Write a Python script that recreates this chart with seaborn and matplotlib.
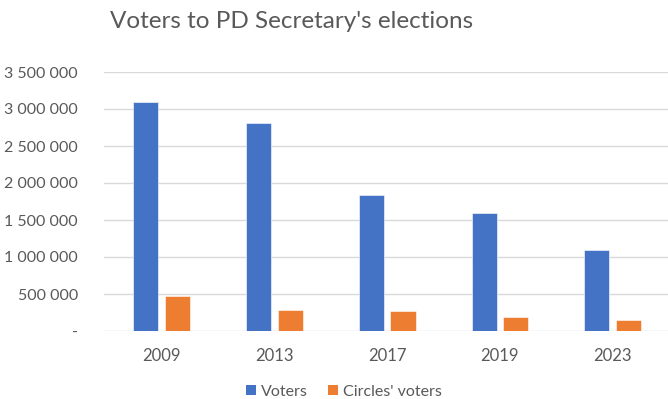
import matplotlib
matplotlib.use("Agg")
import matplotlib.pyplot as plt
import seaborn as sns
import pandas as pd
from matplotlib.ticker import FuncFormatter, MultipleLocator
from matplotlib.patches import Patch

years = ["2009", "2013", "2017", "2019", "2023"]
voters = [3090000, 2815000, 1840000, 1590000, 1095000]
circles_voters = [469000, 288000, 266000, 189000, 149000]
series_names = ["Voters", "Circles' voters"]
title = "Voters to PD Secretary's elections"

df = pd.DataFrame({
    "year": years * 2,
    "value": voters + circles_voters,
    "series": [series_names[0]] * len(years) + [series_names[1]] * len(years),
})

sns.set_theme(style="white")
plt.rcParams["font.family"] = ["Lato", "DejaVu Sans"]

fig = plt.figure(figsize=(6.68, 3.99), dpi=100)
ax = fig.add_axes([104 / 668, 1 - 331 / 399, 1 - 104 / 668, (331 - 72) / 399])

palette = {series_names[0]: "#4472C4", series_names[1]: "#ED7D31"}
sns.barplot(data=df, x="year", y="value", hue="series", palette=palette,
            width=0.5625, gap=0.21, ax=ax, legend=False,
            edgecolor="#ffffff", linewidth=0.4, saturation=1)

ax.set_ylim(0, 3500000)
ax.set_xlim(-0.51, 4.49)
ax.yaxis.set_major_locator(MultipleLocator(500000))
ax.yaxis.set_major_formatter(FuncFormatter(
    lambda v, p: "-" if v == 0 else f"{int(round(v)):,}".replace(",", " ")))
ax.grid(axis="y", color="#D9D9D9", linewidth=1)
ax.set_axisbelow(True)
for s in ax.spines.values():
    s.set_visible(False)
ax.set_xlabel("")
ax.set_ylabel("")
ax.tick_params(axis="y", length=0, pad=18.7, labelsize=11.5, labelcolor="#595959")
ax.tick_params(axis="x", length=0, pad=12, labelsize=12, labelcolor="#595959")

fig.text(110 / 668, 1 - 22 / 399, title, fontsize=17.5, color="#595959",
         ha="left", va="center")

handles = [Patch(facecolor=palette[n], edgecolor="none") for n in series_names]
fig.legend(handles, series_names, loc="center", bbox_to_anchor=(344 / 668, 1 - 392 / 399),
           ncol=2, frameon=False, fontsize=11.5, labelcolor="#595959",
           handlelength=0.6, handleheight=0.6, handletextpad=0.3, columnspacing=1.3,
           borderpad=0)

fig.savefig("out.png", dpi=100)
